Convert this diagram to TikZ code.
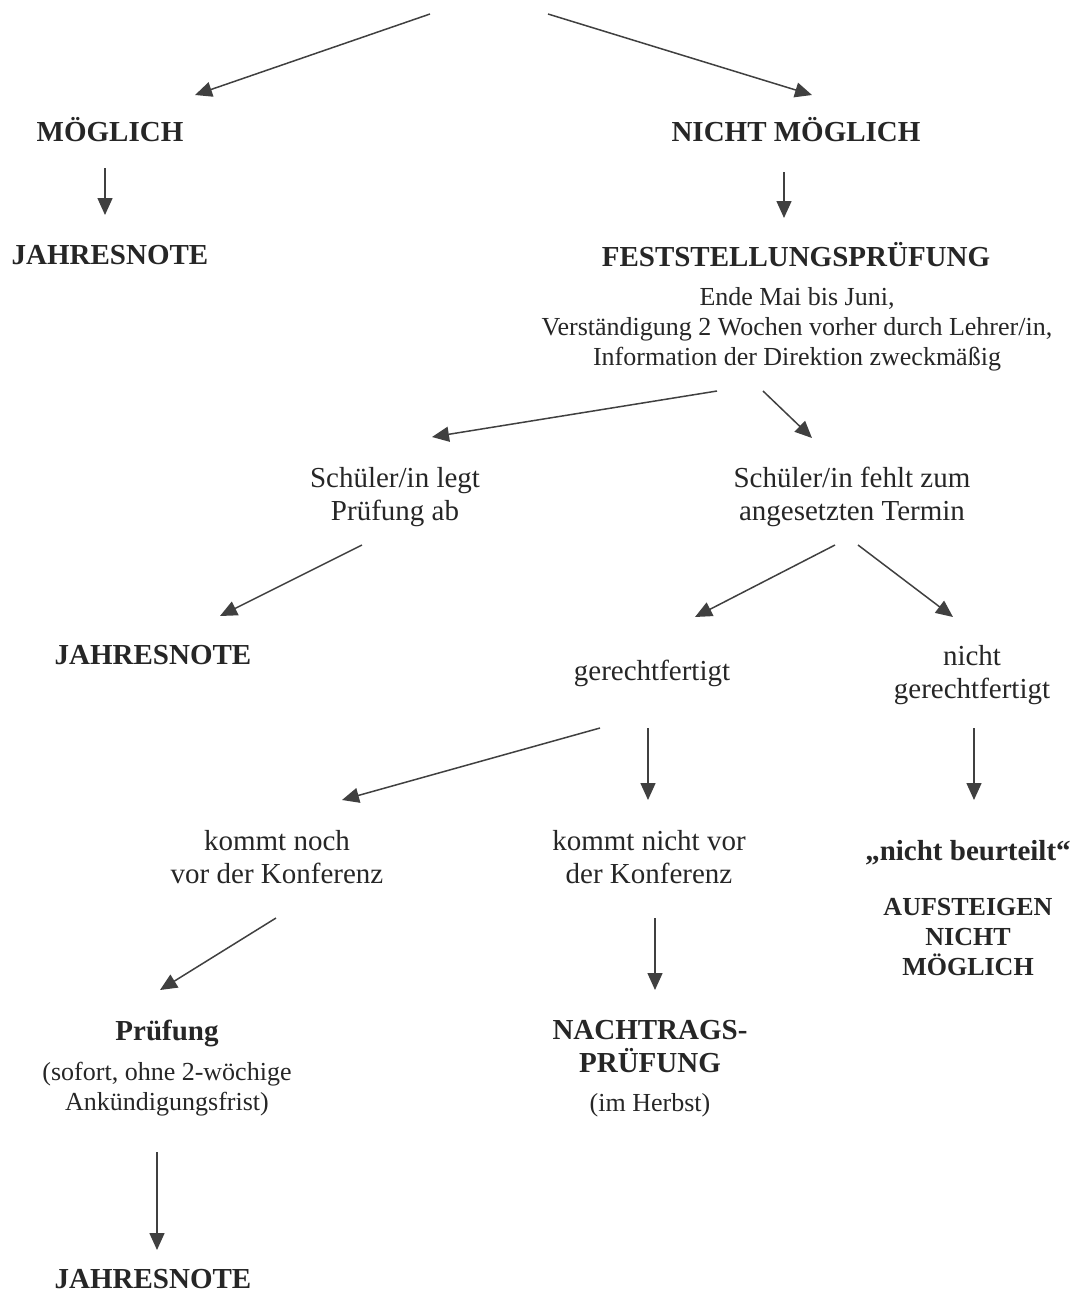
\documentclass[tikz,border=0pt]{standalone}
\usepackage{fontspec}
\setmainfont{Liberation Serif}
\usetikzlibrary{arrows.meta,positioning}
\tikzset{every node/.style = {align = center, inner sep = 0pt, text = black!85,
                              font = \fontsize{29}{33}\selectfont},
         head/.style = {font = \fontsize{29}{33}\selectfont\bfseries},
         small/.style = {font = \fontsize{26}{30}\selectfont},
         smallhead/.style = {font = \fontsize{26}{30}\selectfont\bfseries},
         arr/.style = {draw = black!75, line width = 1.5pt, -{Triangle[length = 17pt, width = 15pt]}},
}
\begin{document}
\begin{tikzpicture}[x = 1pt, y = -1pt]
  \useasboundingbox (0,0) rectangle (1082,1294);

  \coordinate (topl) at (430,14);
  \coordinate (topr) at (548,14);
  \node[head] at (110,130) (moeg) {MÖGLICH};
  \node[head] at (796,130) (nmoeg) {NICHT MÖGLICH};
  \node[head] at (110,255) (jn1) {JAHRESNOTE};
  \node[head] at (796,255) (fest) {FESTSTELLUNGSPRÜFUNG};
  \node[small] at (797,329) (desc) {Ende Mai bis Juni,\\Verständigung 2 Wochen vorher durch Lehrer/in,\\Information der Direktion zweckmäßig};
  \node at (395,497) (legt) {Schüler/in legt\\Prüfung ab};
  \node at (852,497) (fehlt) {Schüler/in fehlt zum\\angesetzten Termin};
  \node[head] at (153,655) (jn2) {JAHRESNOTE};
  \node at (652,673) (ger) {gerechtfertigt};
  \node at (972,675) (nger) {nicht\\gerechtfertigt};
  \node at (277,857) (noch) {kommt noch\\vor der Konferenz};
  \node at (649,857) (nvor) {kommt nicht vor\\der Konferenz};
  \node[head] at (968,853) (nbeurt) {„nicht beurteilt“};
  \node[smallhead] at (968,937) (aufst) {AUFSTEIGEN\\NICHT\\MÖGLICH};
  \node[head] at (167,1033) (pruef) {Prüfung};
  \node[small] at (167,1089) (sofort) {(sofort, ohne 2-wöchige\\Ankündigungsfrist)};
  \node[head] at (650,1047) (nachtr) {NACHTRAGS-\\PRÜFUNG};
  \node[small] at (650,1105) (herbst) {(im Herbst)};
  \node[head] at (153,1279) (jn3) {JAHRESNOTE};

  \draw[arr] (topl) -- ([shift={(85,-35)}]moeg.center);
  \draw[arr] (topr) -- ([shift={(16,-35)}]nmoeg.center);
  \draw[arr] ([shift={(-5,38)}]moeg.center) -- ([shift={(-5,-40)}]jn1.center);
  \draw[arr] ([shift={(-12,42)}]nmoeg.center) -- ([shift={(-12,-37)}]fest.center);
  \draw[arr] ([shift={(-80,62)}]desc.center) -- ([shift={(37,-60)}]legt.center);
  \draw[arr] ([shift={(-34,62)}]desc.center) -- ([shift={(-40,-59)}]fehlt.center);
  \draw[arr] ([shift={(-33,48)}]legt.center) -- ([shift={(67,-39)}]jn2.center);
  \draw[arr] ([shift={(-17,48)}]fehlt.center) -- ([shift={(43,-56)}]ger.center);
  \draw[arr] ([shift={(6,48)}]fehlt.center) -- ([shift={(-19,-58)}]nger.center);
  \draw[arr] ([shift={(-52,55)}]ger.center) -- ([shift={(65,-57)}]noch.center);
  \draw[arr] ([shift={(-4,55)}]ger.center) -- ([shift={(-1,-57)}]nvor.center);
  \draw[arr] ([shift={(2,53)}]nger.center) -- ([shift={(6,-53)}]nbeurt.center);
  \draw[arr] ([shift={(-1,61)}]noch.center) -- ([shift={(-7,-43)}]pruef.center);
  \draw[arr] ([shift={(6,61)}]nvor.center) -- ([shift={(5,-57)}]nachtr.center);
  \draw[arr] ([shift={(-10,63)}]sofort.center) -- ([shift={(4,-29)}]jn3.center);

\end{tikzpicture}
\end{document}
